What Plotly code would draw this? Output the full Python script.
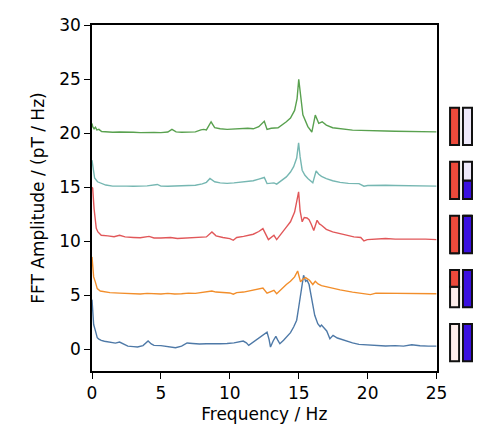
import plotly.graph_objects as go

# ---------------- data ----------------
offsets = [0, 5, 10, 15, 20]
colors = ["#4E79A7", "#F28E2B", "#E15759", "#76B7B2", "#59A14F"]

f_blue = [0, 0.05, 0.12, 0.24, 0.38, 0.5, 0.67, 0.9, 1.15, 1.4, 1.7, 2.0, 2.2, 2.6, 3.0, 3.3, 3.7, 4.07, 4.3, 4.5,
          5.0, 5.5, 6.06, 6.5, 6.9, 7.3, 7.8, 8.3, 8.8, 9.3, 9.8, 10.3, 10.97, 11.2, 11.37, 11.7, 12.19, 12.5, 12.7,
          12.85, 12.95, 13.15, 13.34, 13.5, 13.63, 13.9, 14.1, 14.4, 14.63, 14.85, 15.0, 15.15, 15.35, 15.5, 15.6,
          15.75, 15.85, 15.97, 16.16, 16.38, 16.55, 16.65, 16.85, 17.03, 17.26, 17.49, 17.8, 18.4, 18.9, 19.37, 19.8,
          20.3, 20.8, 21.3, 22.0, 22.6, 23.2, 23.8, 24.4, 24.9, 25]
a_blue = [4.6, 3.2, 2.3, 1.76, 1.08, 0.95, 0.83, 0.75, 0.7, 0.62, 0.58, 0.68, 0.55, 0.3, 0.25, 0.22, 0.35, 0.77, 0.5, 0.37,
          0.35, 0.25, 0.15, 0.3, 0.59, 0.55, 0.5, 0.52, 0.5, 0.52, 0.55, 0.6, 0.77, 0.6, 0.37, 0.68, 1.14, 1.35, 1.6,
          0.9, 0.22, 0.8, 1.2, 0.8, 0.52, 0.85, 1.14, 1.55, 2.07, 2.7, 3.92, 5.3, 6.85, 6.3, 6.4,
          6.0, 5.2, 4.23, 3.15, 2.38, 2.1, 2.25, 1.95, 1.7, 0.99, 1.3, 1.05, 0.77, 0.6, 0.46, 0.42,
          0.35, 0.33, 0.31, 0.35, 0.3, 0.43, 0.33, 0.3, 0.28, 0.3]

f_orange = [0, 0.05, 0.12, 0.24, 0.38, 0.6, 0.9, 1.3, 2.0, 2.5, 3.0, 3.5, 4.0, 4.5, 5.0, 5.5, 6.0, 6.5, 7.0, 7.5, 8.0,
            8.4, 8.7, 9.0, 9.5, 10.0, 10.25, 10.5, 11.0, 11.7, 12.1, 12.4, 12.7, 12.95, 13.2, 13.4, 13.7, 14.1, 14.4,
            14.7, 14.92, 15.13, 15.3, 15.5, 15.78, 16.02, 16.2, 16.4, 16.65, 17.0, 17.46, 18.0, 18.9, 19.5, 20.2,
            20.6, 21.3, 22.0, 22.7, 23.4, 24.0, 24.5, 25]
a_orange = [3.55, 2.5, 1.7, 1.24, 0.62, 0.4, 0.31, 0.25, 0.2, 0.18, 0.15, 0.12, 0.18, 0.14, 0.12, 0.18, 0.12, 0.15, 0.2,
            0.18, 0.25, 0.3, 0.4, 0.3, 0.25, 0.22, 0.1, 0.25, 0.3, 0.46, 0.55, 0.68, 0.2, 0.3, 0.46, 0.15, 0.55, 1.0,
            1.3, 1.7, 2.25, 1.24, 1.5, 1.64, 1.39, 1.0, 1.3, 1.05, 0.9, 0.8, 0.62, 0.5, 0.3, 0.2, 0.06,
            0.2, 0.2, 0.15, 0.18, 0.15, 0.2, 0.15, 0.15]

f_red = [0, 0.05, 0.15, 0.24, 0.31, 0.43, 0.67, 1.15, 1.6, 2.0, 2.4, 3.0, 3.5, 4.14, 4.5, 5.0, 5.7, 6.2, 6.8, 7.3, 7.8,
         8.3, 8.7, 9.0, 9.5, 10.0, 10.25, 10.5, 11.0, 11.7, 12.1, 12.4, 12.8, 13.0, 13.2, 13.4, 13.7, 14.1, 14.4, 14.7,
         14.99, 15.1, 15.25, 15.4, 15.6, 15.75, 15.9, 16.09, 16.33, 16.5, 16.65, 17.0, 17.46, 18.0, 18.4, 19.0, 19.5,
         19.73, 19.97, 20.5, 21.3, 22.0, 22.7, 23.5, 24.2, 25]
a_red = [5.0, 4.9, 3.0, 1.94, 1.2, 0.86, 0.55, 0.5, 0.42, 0.55, 0.4, 0.35, 0.32, 0.45, 0.3, 0.3, 0.35, 0.25, 0.3, 0.32,
         0.35, 0.4, 0.86, 0.5, 0.35, 0.25, 0.09, 0.35, 0.45, 0.65, 0.9, 1.17, 0.15, 0.35, 0.55, 0.15, 0.6, 1.3, 1.8,
         2.7, 4.57, 2.8, 1.8, 2.2, 2.15, 2.0, 1.6, 1.0, 1.94, 1.6, 1.48, 1.1, 0.86, 0.7, 0.55, 0.4, 0.35,
         0.03, 0.15, 0.2, 0.25, 0.2, 0.22, 0.18, 0.2, 0.15]

f_teal = [0, 0.05, 0.19, 0.4, 0.65, 1.0, 1.5, 2.0, 2.5, 3.0, 3.5, 4.0, 4.74, 5.0, 5.5, 6.0, 6.5, 7.0, 7.5, 8.0, 8.3,
          8.56, 8.9, 9.3, 9.8, 10.3, 10.8, 11.3, 11.7, 12.1, 12.5, 12.7, 13.0, 13.2, 13.4, 13.7, 14.1, 14.4, 14.63,
          14.85, 14.99, 15.1, 15.25, 15.45, 15.66, 16.02, 16.26, 16.45, 16.65, 17.0, 17.46, 18.0, 18.6, 19.37, 19.73,
          20.0, 20.6, 21.3, 22.0, 22.8, 23.6, 24.3, 25]
a_teal = [2.5, 1.9, 0.85, 0.5, 0.35, 0.2, 0.1, 0.12, 0.1, 0.09, 0.1, 0.12, 0.25, 0.1, 0.08, 0.12, 0.1, 0.15, 0.18, 0.3,
          0.45, 0.8, 0.5, 0.4, 0.35, 0.4, 0.45, 0.5, 0.6, 0.75, 0.9, 0.33, 0.38, 0.4, 0.28, 0.55, 0.95, 1.4, 1.9,
          2.7, 4.1, 2.8, 1.57, 1.1, 0.8, 0.4, 1.5, 1.2, 1.0, 0.8, 0.6, 0.45, 0.35, 0.33, 0.09,
          0.15, 0.18, 0.18, 0.15, 0.12, 0.13, 0.1, 0.1]

f_green = [0, 0.05, 0.15, 0.25, 0.35, 0.5, 0.7, 1.0, 1.5, 2.0, 2.5, 3.0, 3.5, 4.0, 4.5, 5.0, 5.5, 5.8, 6.1, 6.5, 7.0,
           7.5, 7.9, 8.1, 8.3, 8.64, 8.9, 9.3, 9.8, 10.3, 10.8, 11.3, 11.7, 12.1, 12.5, 12.7, 13.0, 13.5, 14.1, 14.4,
           14.7, 14.88, 15.0, 15.15, 15.3, 15.66, 15.95, 16.2, 16.45, 16.7, 17.0, 17.46, 18.0, 18.9, 19.5, 20.2, 21.3,
           22.0, 23.0, 24.0, 24.9, 25]
a_green = [0.9, 0.6, 0.4, 0.55, 0.3, 0.35, 0.15, 0.12, 0.08, 0.1, 0.06, 0.08, 0.05, 0.08, 0.06, 0.05, 0.1, 0.35, 0.12,
           0.08, 0.1, 0.12, 0.3, 0.35, 0.3, 1.05, 0.5, 0.4, 0.35, 0.4, 0.42, 0.45, 0.4, 0.6, 1.1, 0.34, 0.45, 0.5,
           1.05, 1.4, 2.1, 3.2, 4.97, 3.2, 1.7, 0.6, 0.1, 1.67, 0.9, 1.05, 0.75, 0.5, 0.4, 0.28, 0.25, 0.2, 0.19,
           0.18, 0.14, 0.15, 0.12, 0.12]

freqs = [f_blue, f_orange, f_red, f_teal, f_green]
amps = [a_blue, a_orange, a_red, a_teal, a_green]

# indicator icons (fraction filled) for each trace, bottom to top
red_frac = [0.0, 0.45, 1.0, 1.0, 1.0]
blue_frac = [1.0, 1.0, 1.0, 0.5, 0.0]

x_ticks = [0, 5, 10, 15, 20, 25]
y_ticks = [0, 5, 10, 15, 20, 25, 30]

# ---------------- figure ----------------
FONT = "DejaVu Sans"
fig = go.Figure()

for f, a, off, c in zip(freqs, amps, offsets, colors):
    fig.add_trace(go.Scatter(x=f, y=[v + off for v in a], mode="lines",
                             line=dict(color=c, width=1.4), showlegend=False,
                             xaxis="x", yaxis="y"))

H = 3.45
B = -1.1
C_RED, C_PINK = "#EC4A3B", "#FDEDEA"
C_BLUE, C_LAV = "#3A10E0", "#EEE9FB"
bar_line = dict(color="#111111", width=2)

# left bar: pink bottom, red top
fig.add_trace(go.Bar(x=[0] * 5, base=[o + B for o in offsets], y=[H * (1 - r) for r in red_frac],
                     marker=dict(color=C_PINK, line=bar_line), width=0.7, xaxis="x2", yaxis="y",
                     showlegend=False))
fig.add_trace(go.Bar(x=[0] * 5, base=[o + B + H * (1 - r) for o, r in zip(offsets, red_frac)],
                     y=[H * r for r in red_frac],
                     marker=dict(color=C_RED, line=bar_line), width=0.7, xaxis="x2", yaxis="y",
                     showlegend=False))
# right bar: blue bottom, lavender top
fig.add_trace(go.Bar(x=[1] * 5, base=[o + B for o in offsets], y=[H * b for b in blue_frac],
                     marker=dict(color=C_BLUE, line=bar_line), width=0.7, xaxis="x2", yaxis="y",
                     showlegend=False))
fig.add_trace(go.Bar(x=[1] * 5, base=[o + B + H * b for o, b in zip(offsets, blue_frac)],
                     y=[H * (1 - b) for b in blue_frac],
                     marker=dict(color=C_LAV, line=bar_line), width=0.7, xaxis="x2", yaxis="y",
                     showlegend=False))

axis_common = dict(showline=True, linecolor="black", linewidth=1.5, mirror=True,
                   ticks="outside", ticklen=6, tickwidth=1.3, tickcolor="black",
                   showgrid=False, zeroline=False,
                   tickfont=dict(family=FONT, size=17, color="black"))

fig.update_layout(
    width=500, height=442,
    margin=dict(l=92, r=20, t=25, b=71),
    paper_bgcolor="white", plot_bgcolor="white",
    barmode="overlay",
    font=dict(family=FONT, size=17, color="black"),
    xaxis=dict(domain=[0, 0.895], range=[0, 25], tickvals=x_ticks, anchor="y",
               title=dict(text="Frequency / Hz", font=dict(family=FONT, size=17), standoff=6),
               **axis_common),
    yaxis=dict(range=[-2, 30], tickvals=y_ticks, anchor="x",
               title=dict(text="FFT Amplitude / (pT / Hz)", font=dict(family=FONT, size=17), standoff=10),
               **axis_common),
    xaxis2=dict(domain=[0.925, 0.992], range=[-0.5, 1.5], anchor="y",
                visible=False, showgrid=False, zeroline=False),
)

fig.write_html("out.html")
